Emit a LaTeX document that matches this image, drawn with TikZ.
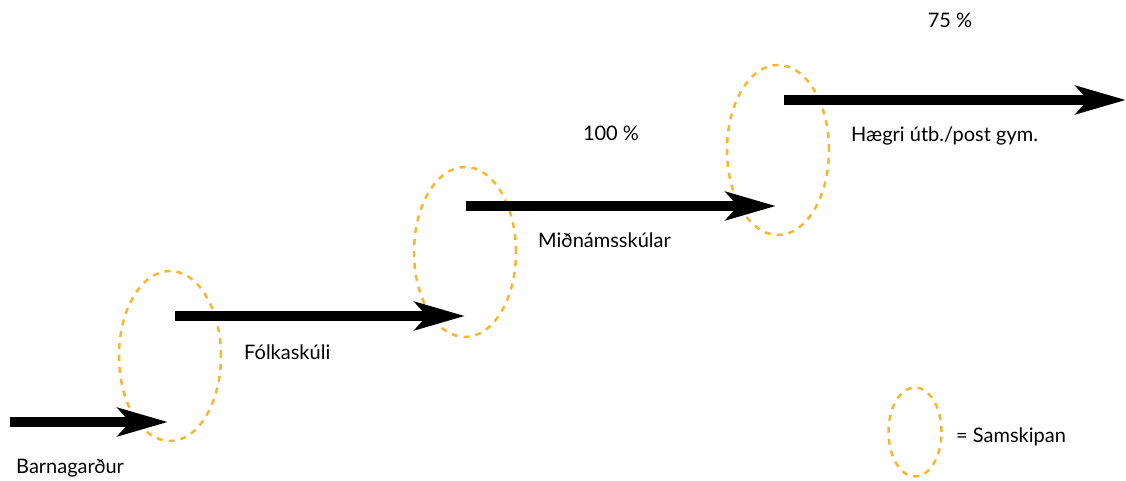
\documentclass[tikz,border=0pt]{standalone}
\usepackage{fontspec}
\setmainfont{Lato}
\usetikzlibrary{arrows.meta,shapes.geometric}
\definecolor{samskipan}{HTML}{F5B731}
\tikzset{
  stage/.style={line width=10pt,-{Stealth[length=50pt,width=28pt,inset=12pt]}},
  link/.style={ellipse,draw=samskipan,dashed,line width=2.5pt,dash pattern=on 6pt off 6pt,
    minimum width=102pt,minimum height=170pt,inner sep=0pt},
  lbl/.style={font=\fontsize{20}{24}\selectfont,inner sep=0pt}
}
\begin{document}
\begin{tikzpicture}[x=1pt,y=-1pt]
			%%%%% START %%%%%
			
			\useasboundingbox (0,0) rectangle (1126,481);
			
			\node[link] (ring1) at (170,356) {};
			\node[link] (ring2) at (465,252) {};
			\node[link] (ring3) at (778,150) {};
			\node[link,minimum width=53pt,minimum height=89pt] (ringkey) at (915,432) {};
			
			\coordinate (s1) at (10,422);   \coordinate (e1) at (168,422);
			\coordinate (s2) at (175,316);  \coordinate (e2) at (465,316);
			\coordinate (s3) at (466,206);  \coordinate (e3) at (776,206);
			\coordinate (s4) at (784,100);  \coordinate (e4) at (1126,100);
			
			\draw[stage] (s1) -- (e1);
			\draw[stage] (s2) -- (e2);
			\draw[stage] (s3) -- (e3);
			\draw[stage] (s4) -- (e4);
			
			\node[lbl,anchor=west] (barn) at (16,468) {Barnagarður};
			\node[lbl,anchor=west] (folk) at (244,352) {Fólkaskúli};
			\node[lbl,anchor=west] (midn) at (538,240) {Miðnámsskúlar};
			\node[lbl,anchor=west] (haegri) at (851,136) {Hægri útb./post gym.};
			\node[lbl] (p100) at (611,133) {100 \%};
			\node[lbl] (p75) at (950,20) {75 \%};
			\node[lbl,anchor=west] (key) at (956,437) {= Samskipan};
			
			%%%%% END %%%%%
\end{tikzpicture}
\end{document}
